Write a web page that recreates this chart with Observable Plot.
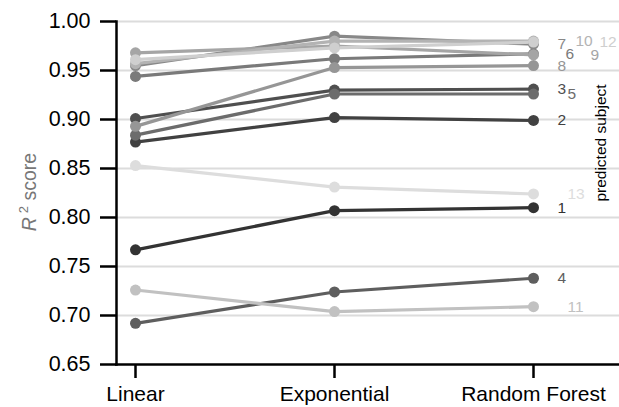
<!DOCTYPE html>
<html><head><meta charset="utf-8">
<script src="https://cdn.jsdelivr.net/npm/d3@7"></script>
<script src="https://cdn.jsdelivr.net/npm/@observablehq/plot@0.6"></script>
<style>
body{margin:0;background:#fff}
svg{font-family:"Liberation Sans",Arial,Helvetica,sans-serif}
</style>
</head><body><div id="chart"></div>
<script>
// ---- data ----
const models = ["Linear", "Exponential", "Random Forest"];
const subjects = [1, 2, 3, 4, 5, 6, 7, 8, 9, 10, 11, 12, 13];
const linear       = [0.767, 0.877, 0.901, 0.692, 0.884, 0.944, 0.955, 0.893, 0.968, 0.957, 0.726, 0.961, 0.853];
const exponential  = [0.807, 0.902, 0.930, 0.724, 0.926, 0.962, 0.985, 0.953, 0.975, 0.980, 0.704, 0.973, 0.831];
const randomForest = [0.810, 0.899, 0.931, 0.738, 0.926, 0.967, 0.977, 0.955, 0.966, 0.980, 0.709, 0.979, 0.824];
const yTicks = [0.65, 0.70, 0.75, 0.80, 0.85, 0.90, 0.95, 1.00];

// ---- styling / layout (not data) ----
const grays = subjects.map((s, i) => { const g = Math.round(51 + i * 14.2); return d3.rgb(g, g, g).formatHex(); });
const labelShift = [24, 24, 24, 24, 34, 32, 24, 24, 57, 42, 34, 66, 34];

const series = [linear, exponential, randomForest];
const rows = [];
subjects.forEach((s, i) => series.forEach((arr, j) => rows.push({subject: s, model: models[j], r2: arr[i]})));
const ends = subjects.map((s, i) => ({subject: s, model: models[2], r2: randomForest[i], shift: labelShift[i]}));
const shifts = [...new Set(labelShift)];

const plot = Plot.plot({
  width: 619, height: 407,
  marginLeft: 116, marginRight: 0, marginTop: 21, marginBottom: 43,
  style: {fontFamily: '"Liberation Sans", Arial, sans-serif', fontSize: "21px", color: "black", background: "white"},
  x: {type: "point", domain: models, padding: 0, insetLeft: 19, insetRight: 86, label: null},
  y: {domain: [0.65, 1.0], label: null},
  color: {type: "ordinal", domain: subjects, range: grays},
  marks: [
    Plot.gridY(yTicks.slice(1), {stroke: "#dcdcdc", strokeOpacity: 1, strokeWidth: 2}),
    Plot.line(rows, {x: "model", y: "r2", z: "subject", stroke: "subject", strokeWidth: 3.2}),
    Plot.dot(rows, {x: "model", y: "r2", fill: "subject", r: 5.5}),
    ...shifts.map(sh => Plot.text(ends.filter(d => d.shift === sh), {
      x: "model", y: "r2", text: d => String(d.subject), fill: "subject",
      dx: sh, textAnchor: "start", fontSize: 15.5
    })),
    Plot.axisY({ticks: yTicks, tickFormat: ".2f", tickSize: 16, tickPadding: 10, strokeWidth: 2.5, label: null, fontSize: 21.5}),
    Plot.axisX({tickSize: 14, tickPadding: 8, strokeWidth: 2.5, label: null}),
    Plot.frame({anchor: "left", stroke: "black", strokeWidth: 2.5}),
    Plot.frame({anchor: "bottom", stroke: "black", strokeWidth: 2.5})
  ]
});

const svg = d3.select(plot);
// y-axis title with italic R and superscript 2
const yl = svg.append("text")
  .attr("transform", "translate(36,192) rotate(-90)")
  .attr("text-anchor", "middle")
  .attr("fill", "#777")
  .attr("font-size", 19.5);
yl.append("tspan").attr("font-style", "italic").text("R");
yl.append("tspan").attr("font-size", 13).attr("dy", -8).attr("dx", 4).text("2");
yl.append("tspan").attr("dy", 8).text(" score");
// right-side legend title
svg.append("text")
  .attr("transform", "translate(606,143) rotate(-90)")
  .attr("text-anchor", "middle")
  .attr("fill", "black")
  .attr("font-size", 15.5)
  .text("predicted subject");

document.getElementById("chart").appendChild(plot);
</script>
</body></html>
